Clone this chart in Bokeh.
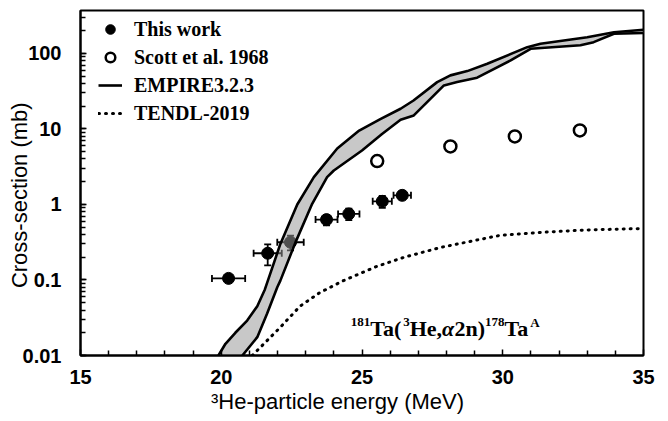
from bokeh.plotting import figure
from bokeh.models import (ColumnDataSource, Whisker, TeeHead, Legend, LegendItem,
                          FixedTicker, Range1d, Label, CustomJSTickFormatter)
from bokeh.embed import file_html
from bokeh.resources import INLINE

# Measured cross-sections (this work)
energy = [20.26, 21.65, 22.46, 23.74, 24.53, 25.72, 26.43]
energy_err = [0.59, 0.50, 0.47, 0.39, 0.38, 0.34, 0.31]
xs_mb = [0.105, 0.226, 0.316, 0.63, 0.75, 1.10, 1.32]
xs_err = [0.012, 0.07, 0.07, 0.10, 0.13, 0.20, 0.15]

# Scott et al. 1968
scott_energy = [25.54, 28.14, 30.43, 32.74]
scott_xs = [3.75, 5.87, 7.95, 9.55]

# EMPIRE3.2.3 band: upper and lower bounds
empire_hi_e = [19.90, 20.15, 20.50, 20.92, 21.28, 21.55, 21.85, 22.10, 22.70, 23.29,
               24.12, 24.90, 25.65, 26.37, 26.83, 27.67, 28.14, 28.74, 29.45, 30.87,
               31.34, 33.00, 33.95, 35.00]
empire_hi_xs = [0.010, 0.0143, 0.020, 0.029, 0.045, 0.075, 0.16, 0.30, 1.0, 2.3,
                5.5, 9.5, 13.5, 18.5, 23.8, 41.7, 51.2, 58.3, 73.1, 121,
                134, 164, 191, 206]
empire_lo_e = [20.75, 21.28, 21.63, 21.99, 22.10, 22.64, 23.23, 23.76, 24.00, 25.00,
               25.70, 26.37, 26.84, 27.91, 28.38, 29.09, 30.28, 30.99, 32.76, 33.23,
               33.95, 35.00]
empire_lo_xs = [0.010, 0.0175, 0.036, 0.080, 0.098, 0.317, 1.02, 2.30, 2.82, 5.19,
                8.5, 13.2, 15.1, 37.7, 41.7, 47.7, 80.7, 115, 128, 141,
                182, 186]

# TENDL-2019
tendl_e = [21.1, 22.1, 22.8, 23.5, 24.34, 25.5, 26.5, 27.8, 29.9, 31.5, 33.0, 35.0]
tendl_xs = [0.010, 0.0237, 0.045, 0.068, 0.098, 0.15, 0.20, 0.27, 0.39, 0.43, 0.46, 0.48]

x_major = [15, 20, 25, 30, 35]
x_minor = [16, 17, 18, 19, 21, 22, 23, 24, 26, 27, 28, 29, 31, 32, 33, 34]

SANS = "Liberation Sans"
SERIF = "Liberation Serif"
NBSP = "\u00a0"

p = figure(width=668, height=421, y_axis_type="log",
           x_range=Range1d(15, 35), y_range=Range1d(0.01, 370),
           output_backend="svg", toolbar_location=None,
           min_border_left=80, min_border_right=25, min_border_top=10,
           min_border_bottom=66)
p.grid.visible = False
p.outline_line_color = "black"
p.outline_line_width = 2
p.background_fill_color = "white"
p.border_fill_color = "white"

# TENDL
r_tendl = p.line(tendl_e, tendl_xs, line_color="black", line_width=3,
                 line_dash="1 6", line_cap="round")

# This work with error bars
src = ColumnDataSource(dict(
    e=energy, s=xs_mb,
    e_lo=[a - b for a, b in zip(energy, energy_err)],
    e_hi=[a + b for a, b in zip(energy, energy_err)],
    s_lo=[a - b for a, b in zip(xs_mb, xs_err)],
    s_hi=[a + b for a, b in zip(xs_mb, xs_err)],
))
for dim, base, lo, hi in (("width", "s", "e_lo", "e_hi"), ("height", "e", "s_lo", "s_hi")):
    p.add_layout(Whisker(source=src, base=base, lower=lo, upper=hi, dimension=dim,
                         line_color="black", line_width=1.8, level="underlay",
                         lower_head=TeeHead(size=7, line_color="black", line_width=1.8),
                         upper_head=TeeHead(size=7, line_color="black", line_width=1.8)))
r_this = p.scatter("e", "s", source=src, size=12, marker="circle",
                   fill_color="black", line_color="black")

# Scott et al.
r_scott = p.scatter(scott_energy, scott_xs, size=12, marker="circle",
                    fill_color="white", line_color="black", line_width=2.5)

# EMPIRE band, laid over the points with a half see-through fill
band_x = empire_hi_e + empire_lo_e[::-1]
band_y = empire_hi_xs + empire_lo_xs[::-1]
p.patch(band_x, band_y, fill_color="#979797", fill_alpha=0.53, line_color=None)
r_emp = p.line(empire_hi_e, empire_hi_xs, line_color="black", line_width=2.6)
p.line(empire_lo_e, empire_lo_xs, line_color="black", line_width=2.6)

# Axes
for ax in (p.xaxis, p.yaxis):
    ax.axis_line_width = 2
    ax.major_tick_in = 6
    ax.major_tick_out = 0
    ax.minor_tick_in = 5
    ax.minor_tick_out = 0
    ax.major_tick_line_width = 1.5
    ax.minor_tick_line_width = 1.5
    ax.major_label_text_font = SANS
    ax.major_label_text_font_style = "bold"
    ax.major_label_text_font_size = "20px"
    ax.major_label_text_color = "black"
    ax.axis_label_text_font = SANS
    ax.axis_label_text_font_style = "normal"
    ax.axis_label_text_font_size = "22px"
    ax.axis_label_text_color = "black"

p.xaxis.ticker = FixedTicker(ticks=x_major, minor_ticks=x_minor)
p.xaxis.major_label_standoff = 14
# trailing no-break spaces move the centred title a little to the left
p.xaxis.axis_label = "³He-particle energy (MeV)" + NBSP * 8
p.xaxis.axis_label_standoff = 2

p.yaxis.major_label_standoff = 19
p.yaxis.formatter = CustomJSTickFormatter(code="return String(Number(tick.toPrecision(3)))")
# the title sits partly beside the widest tick label, and slightly below centre
p.yaxis.axis_label = "Cross-section (mb)" + NBSP * 4
p.yaxis.axis_label_standoff = -12

# Legend
legend = Legend(items=[
    LegendItem(label="This work", renderers=[r_this]),
    LegendItem(label="Scott et al. 1968", renderers=[r_scott]),
    LegendItem(label="EMPIRE3.2.3", renderers=[r_emp]),
    LegendItem(label="TENDL-2019", renderers=[r_tendl]),
], location=(15, 225), margin=0, padding=3, spacing=0,
    label_height=28, glyph_height=28, glyph_width=24, label_standoff=12,
    label_text_font=SERIF, label_text_font_style="bold", label_text_font_size="20px",
    label_text_color="black", border_line_alpha=0, background_fill_alpha=0)
p.add_layout(legend)

# Reaction annotation, assembled from main-size runs and superscript runs
reaction = [("181", "sup"), ("Ta(", "main"), ("3", "sup"), ("He,", "main"),
            ("α", "greek"), ("2n)", "main"), ("178", "sup"), ("Ta", "main"), ("A", "sup")]
adv = {"0": .5, "1": .5, "2": .5, "3": .5, "7": .5, "8": .5, "T": .667, "a": .5,
       "(": .333, ")": .333, "H": .778, "e": .444, ",": .25, "n": .556, "A": .722,
       "α": .56}
MAIN_PX, SUP_PX = 22, 13
offset = 0.0
for txt, kind in reaction:
    size = SUP_PX if kind == "sup" else MAIN_PX
    p.add_layout(Label(x=24.6, y=0.0228, x_offset=offset,
                       y_offset=6 if kind == "sup" else 0, text=txt,
                       text_font=SERIF,
                       text_font_style="bold italic" if kind == "greek" else "bold",
                       text_font_size=f"{size}px", text_color="black",
                       text_baseline="alphabetic"))
    offset += sum(adv[c] for c in txt) * size

open("out.html", "w").write(file_html(p, INLINE))
